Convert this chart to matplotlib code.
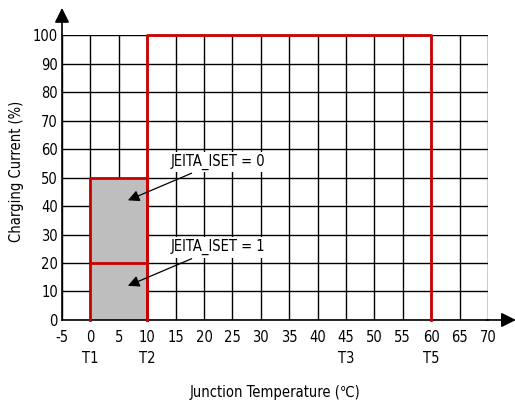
import matplotlib.pyplot as plt
from matplotlib.patches import Rectangle

plt.rcParams['font.family'] = ['DejaVu Sans']
plt.rcParams['font.stretch'] = 'condensed'
plt.rcParams['axes.unicode_minus'] = False

# temperature grid and current axis
x_ticks = list(range(-5, 75, 5))
y_ticks = list(range(0, 110, 10))

# charging-current limits per temperature window (start, end, percent)
full_window = (10, 60, 100)
cool_windows = [(0, 10, 50), (0, 10, 20)]
cool_labels = ["JEITA_ISET = 0", "JEITA_ISET = 1"]

# threshold names under the axis
thresholds = [0, 10, 45, 60]
threshold_names = ["T1", "T2", "T3", "T5"]

red = '#cc0000'
fs = 10.5

fig = plt.figure(figsize=(5.15, 4.03), dpi=100)
ax = fig.add_axes([0.1204, 0.206, 0.8272, 0.707])

ax.set_xlim(-5, 70)
ax.set_ylim(0, 100)
ax.set_xticks(x_ticks)
ax.set_yticks(y_ticks)
ax.grid(True, color='black', linewidth=1.0)
ax.set_axisbelow(True)
for s in ['top', 'right']:
    ax.spines[s].set_visible(False)
for s in ['left', 'bottom']:
    ax.spines[s].set_linewidth(1.2)
ax.tick_params(length=0, labelsize=fs)
ax.tick_params(axis='x', pad=7)
ax.tick_params(axis='y', pad=3)

# shaded cool region
x0, x1, top = cool_windows[0]
ax.add_patch(Rectangle((x0, 0), x1 - x0, top, facecolor='#bebebe', edgecolor='none', zorder=1.5))

# red current limit outlines
ax.plot([x0, x0, x1, x1], [0, top, top, 0], color=red, lw=2, zorder=3, clip_on=False)
ax.plot([cool_windows[1][0], cool_windows[1][1]], [cool_windows[1][2]] * 2, color=red, lw=2, zorder=3)
fx0, fx1, ftop = full_window
ax.plot([fx0, fx0, fx1, fx1], [0, ftop, ftop, 0], color=red, lw=2, zorder=3, clip_on=False)

# axis arrows
ax.annotate('', xy=(1.072, 0), xytext=(0.99, 0), xycoords='axes fraction',
            arrowprops=dict(arrowstyle='-|>', color='black', lw=1.2, mutation_scale=22), annotation_clip=False)
ax.annotate('', xy=(0, 1.105), xytext=(0, 0.99), xycoords='axes fraction',
            arrowprops=dict(arrowstyle='-|>', color='black', lw=1.2, mutation_scale=22), annotation_clip=False)

# labels for the two ISET settings
for (wx0, wx1, wtop), label in zip(cool_windows, cool_labels):
    ty = wtop + 5.5
    ax.annotate(label, xy=(6.6, wtop - 8), xytext=(14.2, ty), fontsize=fs,
                va='center', ha='left', zorder=5,
                bbox=dict(boxstyle='square,pad=0.15', fc='white', ec='none'),
                arrowprops=dict(arrowstyle='-|>', color='black', lw=0.9, mutation_scale=17,
                                shrinkA=2, shrinkB=0))

for t, name in zip(thresholds, threshold_names):
    ax.text(t, -13.5, name, ha='center', va='center', fontsize=fs)

fig.text(275 / 515, 11 / 403, 'Junction Temperature (\u2103)', fontsize=fs, ha='center', va='center')
fig.text(17 / 515, 0.575, 'Charging Current (%)', fontsize=fs, ha='center', va='center', rotation=90)

fig.savefig('out.png', dpi=100)
